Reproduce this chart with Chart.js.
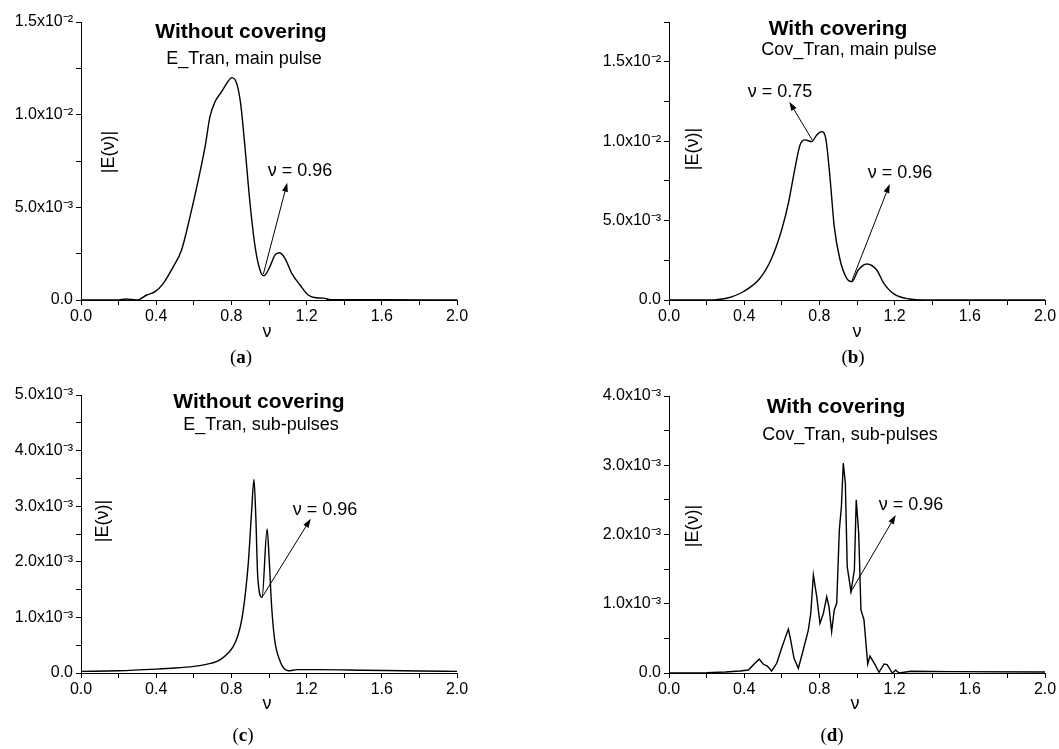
<!DOCTYPE html>
<html><head><meta charset="utf-8">
<script src="https://cdn.jsdelivr.net/npm/chart.js@4.4.1/dist/chart.umd.min.js"></script>
<style>
html,body{margin:0;padding:0;background:#fff;}
body{width:1059px;height:749px;position:relative;overflow:hidden;font-family:"Liberation Sans",Arial,sans-serif;color:#000;}
.cw{position:absolute;}
.t{position:absolute;white-space:nowrap;transform:translate(-50%,-50%);line-height:1;}
.title{font-weight:bold;font-size:21px;}
.sub{font-size:18px;}
.ann{font-size:18px;}
.yl{font-size:18px;transform:translate(-50%,-50%) rotate(-90deg);}
.xl{font-size:18px;}
.pl{font-family:"Liberation Serif","Times New Roman",serif;font-size:19px;}
.pl b{font-weight:bold;}
</style></head><body>

<div class="cw" id="wa" style="left:0;top:0;width:530px;height:370px"><canvas id="ca"></canvas></div>
<div class="cw" id="wb" style="left:530px;top:0;width:529px;height:370px"><canvas id="cb"></canvas></div>
<div class="cw" id="wc" style="left:0;top:370px;width:530px;height:379px"><canvas id="cc"></canvas></div>
<div class="cw" id="wd" style="left:530px;top:370px;width:529px;height:379px"><canvas id="cd"></canvas></div>

<div class="t title" style="left:241px;top:30px">Without covering</div>
<div class="t sub" style="left:244px;top:58px">E_Tran, main pulse</div>
<div class="t ann" style="left:300px;top:170px">ν = 0.96</div>
<div class="t yl" style="left:108px;top:152px">|E(ν)|</div>
<div class="t xl" style="left:267px;top:331px">ν</div>
<div class="t pl" style="left:241px;top:356px">(<b>a</b>)</div>

<div class="t title" style="left:838px;top:27px">With covering</div>
<div class="t sub" style="left:849px;top:49px">Cov_Tran, main pulse</div>
<div class="t ann" style="left:780px;top:91px">ν = 0.75</div>
<div class="t ann" style="left:900px;top:172px">ν = 0.96</div>
<div class="t yl" style="left:692px;top:149px">|E(ν)|</div>
<div class="t xl" style="left:857px;top:331px">ν</div>
<div class="t pl" style="left:853px;top:356px">(<b>b</b>)</div>

<div class="t title" style="left:259px;top:400px">Without covering</div>
<div class="t sub" style="left:261px;top:424px">E_Tran, sub-pulses</div>
<div class="t ann" style="left:325px;top:509px">ν = 0.96</div>
<div class="t yl" style="left:102px;top:521px">|E(ν)|</div>
<div class="t xl" style="left:267px;top:703px">ν</div>
<div class="t pl" style="left:243px;top:734px">(<b>c</b>)</div>

<div class="t title" style="left:836px;top:405px">With covering</div>
<div class="t sub" style="left:850px;top:434px">Cov_Tran, sub-pulses</div>
<div class="t ann" style="left:911px;top:504px">ν = 0.96</div>
<div class="t yl" style="left:692px;top:526px">|E(ν)|</div>
<div class="t xl" style="left:855px;top:703px">ν</div>
<div class="t pl" style="left:832px;top:734px">(<b>d</b>)</div>

<script>
// ---- data ----
const xTicks = [0, 0.2, 0.4, 0.6, 0.8, 1.0, 1.2, 1.4, 1.6, 1.8, 2.0];

const nuA = [0,0.10,0.20,0.24,0.27,0.30,0.35,0.394,0.438,0.491,0.535,0.58,0.624,0.66,0.686,0.713,0.748,0.775,0.803,0.828,0.849,0.872,0.899,0.926,0.952,0.973,1.005,1.032,1.055,1.085,1.121,1.165,1.209,1.25,1.29,1.33,1.4,1.6,2.0];
const eA  = [0,0,0,5e-5,3e-5,0,2.7e-4,4.5e-4,9e-4,1.8e-3,2.7e-3,4.5e-3,6.48e-3,8.27e-3,9.89e-3,1.07e-2,1.124e-2,1.169e-2,1.20e-2,1.169e-2,1.061e-2,8.27e-3,5.22e-3,2.88e-3,1.62e-3,1.31e-3,1.8e-3,2.43e-3,2.55e-3,2.25e-3,1.44e-3,8.1e-4,2.7e-4,1.2e-4,1e-4,1e-5,1e-5,1e-5,0];

const nuB = [0,0.165,0.25,0.307,0.395,0.484,0.546,0.599,0.635,0.670,0.697,0.723,0.759,0.786,0.812,0.835,0.856,0.879,0.910,0.945,0.972,1.007,1.052,1.105,1.14,1.2,1.28,1.35,2.0];
const eB  = [0,0,2e-5,1.1e-4,5.2e-4,1.37e-3,2.63e-3,4.41e-3,6.09e-3,8.29e-3,9.76e-3,1.008e-2,9.97e-3,1.039e-2,1.06e-2,1.008e-2,7.77e-3,4.62e-3,2.52e-3,1.37e-3,1.15e-3,1.89e-3,2.27e-3,1.89e-3,1.1e-3,3.5e-4,6e-5,0,0];

const nuC = [0,0.2,0.4,0.5,0.6,0.66,0.69,0.72,0.745,0.78,0.81,0.835,0.855,0.875,0.89,0.907,0.92,0.93,0.94,0.963,0.99,1.001,1.014,1.03,1.059,1.08,1.103,1.15,1.27,1.5,1.8,2.0];
const eC  = [3e-5,4e-5,7e-5,9e-5,1.2e-4,1.5e-4,1.72e-4,2.05e-4,2.5e-4,3.5e-4,4.8e-4,6.8e-4,9.6e-4,1.45e-3,1.98e-3,2.88e-3,3.48e-3,2.8e-3,1.74e-3,1.36e-3,2.59e-3,2.04e-3,1.2e-3,6e-4,2.1e-4,8e-5,4e-5,6e-5,6e-5,5e-5,3.5e-5,3e-5];

const nuD = [0,0.2,0.3,0.378,0.422,0.457,0.480,0.502,0.523,0.546,0.573,0.599,0.617,0.635,0.647,0.665,0.688,0.714,0.741,0.754,0.768,0.786,0.803,0.821,0.839,0.851,0.865,0.879,0.892,0.906,0.917,0.927,0.938,0.948,0.968,0.986,0.996,1.009,1.021,1.037,1.057,1.069,1.096,1.117,1.144,1.16,1.188,1.206,1.224,1.287,1.5,2.0];
const eD  = [0,5e-6,1.5e-5,2.9e-5,4.3e-5,1.4e-4,2.0e-4,1.26e-4,1.0e-4,2.9e-5,1.4e-4,3.57e-4,5.0e-4,6.35e-4,4.77e-4,2.12e-4,6.8e-5,3.32e-4,6.2e-4,8.6e-4,1.415e-3,1.10e-3,7.18e-4,8.6e-4,1.10e-3,9.57e-4,5.96e-4,9.1e-4,1.006e-3,2.065e-3,2.40e-3,3.03e-3,2.74e-3,1.535e-3,1.174e-3,1.487e-3,2.50e-3,2.02e-3,9.1e-4,7.7e-4,1.3e-4,2.45e-4,1.2e-4,1e-5,1.3e-4,1.2e-4,0,4e-5,0,2.5e-5,2e-5,1.5e-5];

// annotation arrows [tailNu, tailE, headNu, headE]
const arrowsA = [[0.970,1.40e-3,1.097,6.33e-3]];
const arrowsB = [[0.763,1.005e-2,0.640,1.248e-2],[0.973,1.21e-3,1.174,7.3e-3]];
const arrowsC = [[0.961,1.35e-3,1.222,2.775e-3]];
const arrowsD = [[0.965,1.16e-3,1.206,2.28e-3]];

// ---- helpers ----
const SUP = {'-':'\u207B','0':'\u2070','1':'\u00B9','2':'\u00B2','3':'\u00B3','4':'\u2074','5':'\u2075','6':'\u2076','7':'\u2077','8':'\u2078','9':'\u2079'};
function sci(v){
  if (Math.abs(v) < 1e-12) return '0.0';
  const e = Math.floor(Math.log10(Math.abs(v)) + 1e-9);
  const m = v / Math.pow(10, e);
  return m.toFixed(1) + 'x10' + String(e).split('').map(c=>SUP[c]).join('');
}
const isMajor = (v, step) => Math.abs(v/step - Math.round(v/step)) < 1e-6;

const arrowPlugin = {
  id:'arrows',
  afterDatasetsDraw(chart, args, opts){
    const {ctx} = chart; const x = chart.scales.x, y = chart.scales.y;
    (opts.list||[]).forEach(a=>{
      const x1=x.getPixelForValue(a[0]), y1=y.getPixelForValue(a[1]);
      const x2=x.getPixelForValue(a[2]), y2=y.getPixelForValue(a[3]);
      const ang=Math.atan2(y2-y1,x2-x1), L=9, W=3;
      const bx=x2-L*Math.cos(ang), by=y2-L*Math.sin(ang);
      ctx.save(); ctx.strokeStyle='#000'; ctx.fillStyle='#000'; ctx.lineWidth=1;
      ctx.beginPath(); ctx.moveTo(x1,y1); ctx.lineTo(bx,by); ctx.stroke();
      ctx.beginPath(); ctx.moveTo(x2,y2);
      ctx.lineTo(bx+W*Math.sin(ang), by-W*Math.cos(ang));
      ctx.lineTo(bx-W*Math.sin(ang), by+W*Math.cos(ang));
      ctx.closePath(); ctx.fill(); ctx.restore();
    });
  }
};

function makeChart(id, box, area, xs, ys, yMax, yStep, yMajor, smooth, arrows){
  const padTop = area.t - box.t, padRight = box.l + box.w - area.r;
  const yW = area.l - box.l, xH = box.t + box.h - area.b;
  const font = {family:'"Liberation Sans", Arial, sans-serif', size:16};
  new Chart(document.getElementById(id), {
    type:'line',
    data:{datasets:[{
      data: xs.map((v,i)=>({x:v, y:ys[i]})),
      borderColor:'#000', borderWidth:1.4, pointRadius:0, fill:false,
      tension: smooth ? 0.4 : 0, cubicInterpolationMode: smooth ? 'monotone' : 'default'
    }]},
    options:{
      responsive:true, maintainAspectRatio:false, animation:false, events:[],
      layout:{padding:{top:padTop, right:padRight, left:0, bottom:0}},
      plugins:{legend:{display:false}, tooltip:{enabled:false}, arrows:{list:arrows}},
      scales:{
        x:{type:'linear', min:0, max:2,
          afterFit(s){ s.height = xH; },
          afterBuildTicks(s){ s.ticks = xTicks.map(v=>({value:v})); },
          ticks:{autoSkip:false, maxRotation:0, padding:2, color:'#000', font,
            callback:(v)=> isMajor(v,0.4) ? v.toFixed(1) : ''},
          grid:{drawOnChartArea:false, drawTicks:true, tickLength:5, color:'#000'},
          border:{display:true, color:'#000', width:1}
        },
        y:{type:'linear', min:0, max:yMax,
          afterFit(s){ s.width = yW; },
          afterBuildTicks(s){ const t=[]; for(let k=0;k*yStep<=yMax+1e-12;k++) t.push({value:k*yStep}); s.ticks=t; },
          ticks:{autoSkip:false, padding:3, color:'#000', font,
            callback:(v)=> isMajor(v,yMajor) ? sci(v) : ''},
          grid:{drawOnChartArea:false, drawTicks:true, tickLength:5, color:'#000'},
          border:{display:true, color:'#000', width:1}
        }
      }
    },
    plugins:[arrowPlugin]
  });
}

makeChart('ca', {l:0,t:0,w:530,h:370}, {l:81,r:457,t:22,b:300}, nuA, eA, 1.5e-2, 2.5e-3, 5e-3, true, arrowsA);
makeChart('cb', {l:530,t:0,w:529,h:370}, {l:669,r:1045,t:22,b:300}, nuB, eB, 1.75e-2, 2.5e-3, 5e-3, true, arrowsB);
makeChart('cc', {l:0,t:370,w:530,h:379}, {l:81,r:457,t:395,b:673}, nuC, eC, 5e-3, 5e-4, 1e-3, true, arrowsC);
makeChart('cd', {l:530,t:370,w:529,h:379}, {l:669,r:1045,t:396,b:673}, nuD, eD, 4e-3, 5e-4, 1e-3, false, arrowsD);
</script>
</body></html>
